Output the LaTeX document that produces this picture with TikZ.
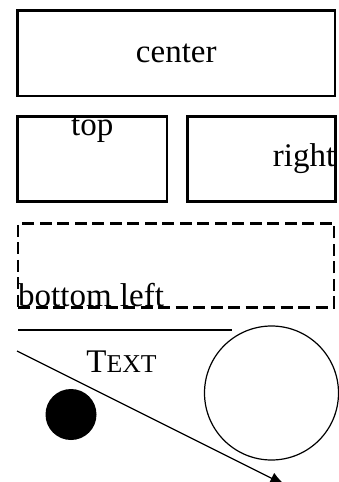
\documentclass[tikz,border=0pt]{standalone}
\usepackage{fontspec}
\setmainfont{Liberation Serif}
\usetikzlibrary{arrows.meta}
\begin{document}
\begin{tikzpicture}[x=1pt,y=-1pt,>={Latex[length=15pt,width=12pt]},box/.style = {draw, rectangle, line width = 2.8pt, inner sep = 0pt, outer sep = 0pt},txt/.style = {inner sep = 0pt, font = \fontsize{33}{40}\selectfont},]
\useasboundingbox (0,0) rectangle (338,482);
\node (C) at (176.25,53.25)[box,minimum width=317.5pt,minimum height=85.5pt] {};
\node (T) at (92.25,159)[box,minimum width=149.5pt,minimum height=85pt] {};
\node (R) at (261.5,159)[box,minimum width=148pt,minimum height=85pt] {};
\node (L) at (176,265.3)[box,dash pattern=on 12pt off 5.5pt,minimum width=316pt,minimum height=84pt] {};
\node at (C.center)[txt] {center};
\node at (T.north)[txt,anchor=north] {top};
\node at (R.east)[txt,anchor=east] {right};
\node at (L.south west)[txt,anchor=south west] {bottom left};
\coordinate (H1) at (18,330);
\coordinate (H2) at (232,330);
\coordinate (P) at (17,351);
\coordinate (Q) at (285,485);
\node (S) at (121.5,361.8)[txt] {T{\fontsize{25.7}{30}\selectfont EXT}};
\node (D) at (71,414.5)[circle, fill = black, inner sep = 0pt, minimum size = 51pt] {};
\node (O) at (271.5,393)[circle, draw, line width = 1.2pt, inner sep = 0pt, minimum size = 134pt] {};
\draw[line width = 2pt] (H1)--(H2);
\draw[->,line width = 1.2pt] (P)--(Q);
\end{tikzpicture}
\end{document}
